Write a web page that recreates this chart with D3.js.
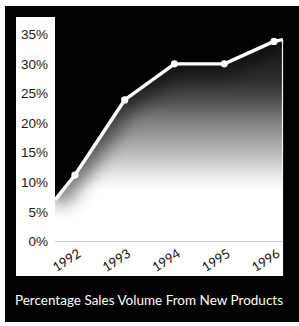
<!DOCTYPE html>
<html>
<head>
<meta charset="utf-8">
<script src="https://cdn.jsdelivr.net/npm/d3@7"></script>
<style>
  body { margin: 0; background: #fff; }
  svg { display: block; }
  .yaxis text { font-family: "Liberation Sans", Arial, sans-serif; font-size: 13.5px; fill: #1a1a1a; }
  .xaxis text { font-family: Lato, "Open Sans", sans-serif; font-size: 13px; fill: #111; }
  .title { font-family: Lato, "Open Sans", sans-serif; font-size: 13.5px; fill: #fff; }
</style>
</head>
<body>
<div id="chart"></div>
<script>
// values
var years = [1992, 1993, 1994, 1995, 1996];
var salesPct = [11.2, 23.9, 30, 30, 33.8];
// the line runs a little past the first and last year, to the plot edges
var edgeYears = [1991.6, 1996.18];
var edgeValues = [7.0, 34.1];
var yTicks = [0, 5, 10, 15, 20, 25, 30, 35];
var title = "Percentage Sales Volume From New Products";

var width = 299,
    height = 326;

var svg = d3.select("#chart").append("svg")
    .attr("width", width)
    .attr("height", height);

var x = d3.scaleLinear()
    .domain(edgeYears)
    .range([55, 283]);

var y = d3.scaleLinear()
    .domain([0, 35])
    .range([241.3, 34.3]);

var lineData = [{ year: edgeYears[0], value: edgeValues[0] }];
for (var i = 0; i < years.length; i++) {
    lineData.push({ year: years[i], value: salesPct[i] });
}
lineData.push({ year: edgeYears[1], value: edgeValues[1] });

var defs = svg.append("defs");

// dark under the line, fading to white lower down
var grad = defs.append("linearGradient")
    .attr("id", "fade")
    .attr("gradientUnits", "userSpaceOnUse")
    .attr("x1", 0).attr("y1", 40)
    .attr("x2", 0).attr("y2", 190);
var stops = [[0, "#161616"], [0.27, "#2e2e2e"], [0.4, "#4e4e4e"], [0.53, "#7c7c7c"],
             [0.67, "#a2a2a2"], [0.8, "#c8c8c8"], [0.9, "#e8e8e8"], [1, "#ffffff"]];
stops.forEach(function (s) {
    grad.append("stop").attr("offset", s[0]).attr("stop-color", s[1]);
});

defs.append("filter")
    .attr("id", "soft")
    .attr("x", "-50%").attr("y", "-50%")
    .attr("width", "200%").attr("height", "200%")
    .append("feGaussianBlur")
    .attr("stdDeviation", 9);

var area = d3.area()
    .x(function (d) { return x(d.year); })
    .y0(y(0))
    .y1(function (d) { return y(d.value); });

var line = d3.line()
    .x(function (d) { return x(d.year); })
    .y(function (d) { return y(d.value); });

defs.append("clipPath")
    .attr("id", "under")
    .append("path")
    .attr("d", area(lineData));

// frame and white panels
svg.append("rect")
    .attr("x", 5).attr("y", 6)
    .attr("width", 294).attr("height", 316)
    .attr("fill", "#000");

svg.append("rect")
    .attr("x", 16).attr("y", 17)
    .attr("width", 39).attr("height", 259)
    .attr("fill", "#fff");

svg.append("rect")
    .attr("x", 16).attr("y", y(0))
    .attr("width", 267).attr("height", 276 - y(0))
    .attr("fill", "#fff");

// shaded area under the line
svg.append("path")
    .attr("d", area(lineData))
    .attr("fill", "url(#fade)");

svg.append("g")
    .attr("clip-path", "url(#under)")
    .append("path")
    .attr("d", line(lineData))
    .attr("fill", "none")
    .attr("stroke", "#000")
    .attr("stroke-width", 22)
    .attr("stroke-opacity", 0.55)
    .attr("filter", "url(#soft)");

// thin light edge on the right of the area
svg.append("line")
    .attr("x1", x(edgeYears[1]) - 0.5).attr("x2", x(edgeYears[1]) - 0.5)
    .attr("y1", y(edgeValues[1])).attr("y2", 276)
    .attr("stroke", "#f4f4f4")
    .attr("stroke-width", 1.2);

svg.append("path")
    .attr("d", line(lineData))
    .attr("fill", "none")
    .attr("stroke", "#fff")
    .attr("stroke-width", 3.4)
    .attr("stroke-linejoin", "round");

svg.selectAll(".dot")
    .data(lineData.slice(1, lineData.length - 1))
    .enter()
    .append("circle")
    .attr("class", "dot")
    .attr("cx", function (d) { return x(d.year); })
    .attr("cy", function (d) { return y(d.value); })
    .attr("r", 3.6)
    .attr("fill", "#fff");

// axes
var yAxis = d3.axisLeft(y)
    .tickValues(yTicks)
    .tickSize(0)
    .tickPadding(0)
    .tickFormat(function (d) { return d + "%"; });

svg.append("g")
    .attr("class", "yaxis")
    .attr("transform", "translate(48,0)")
    .call(yAxis)
    .call(function (g) { g.select(".domain").remove(); });

var xAxis = d3.axisBottom(x)
    .tickValues(years)
    .tickSize(0)
    .tickFormat(d3.format("d"));

svg.append("g")
    .attr("class", "xaxis")
    .attr("transform", "translate(3,258)")
    .call(xAxis)
    .call(function (g) { g.select(".domain").remove(); })
    .selectAll("text")
    .attr("y", 0)
    .attr("dy", 0)
    .attr("x", 4)
    .style("text-anchor", "end")
    .attr("transform", "rotate(-33)");

svg.append("text")
    .attr("class", "title")
    .attr("x", 149)
    .attr("y", 305)
    .attr("text-anchor", "middle")
    .text(title);
</script>
</body>
</html>
